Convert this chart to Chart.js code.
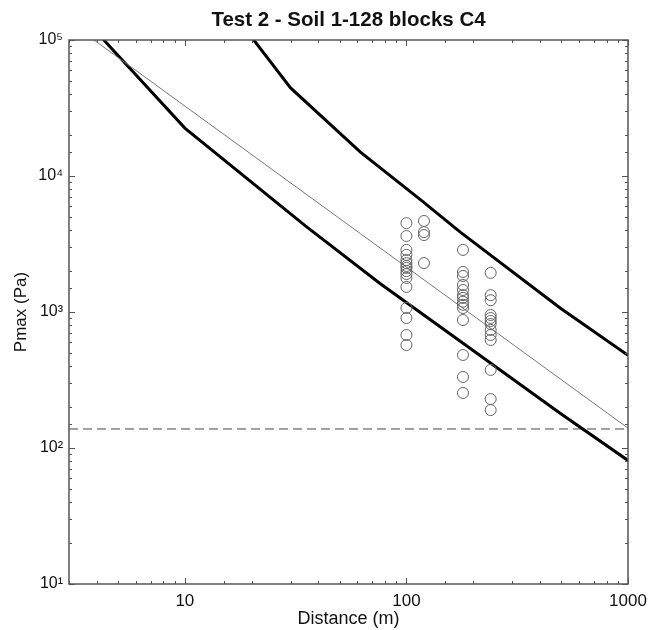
<!DOCTYPE html>
<html>
<head>
<meta charset="utf-8">
<script src="https://cdn.jsdelivr.net/npm/chart.js@4/dist/chart.umd.min.js"></script>
<style>
    body { margin: 0; background: #ffffff; }
    #box { width: 648px; height: 630px; }
</style>
</head>
<body>
<div id="box"><canvas id="pmax_Chart"></canvas></div>
<script>
// measured points (distance m, Pmax Pa)
const distances = [100, 120, 180, 240];
const pmaxAt100 = [4500, 3620, 2860, 2630, 2410, 2290, 2180, 2110, 2000, 1900, 1780, 1530, 1070, 903, 677, 572];
const pmaxAt120 = [4670, 3870, 3680, 2290];
const pmaxAt180 = [2860, 1970, 1840, 1580, 1450, 1330, 1270, 1190, 1130, 1070, 873, 483, 333, 254];
const pmaxAt240 = [1940, 1330, 1220, 950, 903, 859, 817, 738, 678, 623, 375, 229, 190];

// prediction curves
const upperX = [19, 30, 62, 116, 175, 494, 1000];
const upperY = [117000, 44400, 15000, 6670, 3870, 1070, 480];
const lowerX = [4, 10, 35, 76, 175, 494, 1000];
const lowerY = [114000, 22500, 4300, 1620, 610, 180, 81];
const fitX = [3, 1000];
const fitY = [136000, 140];

// limit line
const limitX = [3, 1000];
const limitY = [138, 138];

const chartTitle = "Test 2 - Soil 1-128 blocks C4";
const supDigits = { 1: "\u00b9", 2: "\u00b2", 3: "\u00b3", 4: "\u2074", 5: "\u2075" };
const fontFamily = "'Liberation Sans', Arial, sans-serif";

function toPoints(xs, ys) {
    let pts = [];
    for (let i = 0; i < xs.length; i++) {
        pts.push({ x: xs[i], y: ys[i] });
    }
    return pts;
}

function isDecade(v) {
    let l = Math.log10(v);
    return Math.abs(l - Math.round(l)) < 1e-6;
}

// inward ticks on all four sides, the frame, and the title centred over the plot
const frameTicks = {
    id: "frameTicks",
    afterDatasetsDraw(chart) {
        let ctx = chart.ctx;
        let a = chart.chartArea;
        ctx.save();
        ctx.strokeStyle = "#555";
        ctx.lineWidth = 1;
        ["x", "y"].forEach(id => {
            let scale = chart.scales[id];
            scale.ticks.forEach(t => {
                let len = isDecade(t.value) ? 6 : 3;
                let p = Math.round(scale.getPixelForValue(t.value)) + 0.5;
                ctx.beginPath();
                if (id === "x") {
                    ctx.moveTo(p, a.bottom); ctx.lineTo(p, a.bottom - len);
                    ctx.moveTo(p, a.top); ctx.lineTo(p, a.top + len);
                } else {
                    ctx.moveTo(a.left, p); ctx.lineTo(a.left + len, p);
                    ctx.moveTo(a.right, p); ctx.lineTo(a.right - len, p);
                }
                ctx.stroke();
            });
        });
        ctx.lineWidth = 1.5;
        ctx.strokeRect(a.left, a.top, a.right - a.left, a.bottom - a.top);

        ctx.fillStyle = "#111";
        ctx.font = "bold 20.5px " + fontFamily;
        ctx.textAlign = "center";
        ctx.textBaseline = "middle";
        ctx.fillText(chartTitle, (a.left + a.right) / 2, 20);
        ctx.restore();
    }
};

function graph() {
    let scatterPts = []
        .concat(pmaxAt100.map(v => ({ x: distances[0], y: v })))
        .concat(pmaxAt120.map(v => ({ x: distances[1], y: v })))
        .concat(pmaxAt180.map(v => ({ x: distances[2], y: v })))
        .concat(pmaxAt240.map(v => ({ x: distances[3], y: v })));

    window.pmax_Chart = new Chart("pmax_Chart", {
        type: "scatter",
        data: {
            datasets: [
                {
                    data: scatterPts,
                    pointStyle: "circle",
                    pointRadius: 5.5,
                    borderColor: "#666",
                    backgroundColor: "rgba(0,0,0,0)",
                    borderWidth: 1
                },
                {
                    data: toPoints(fitX, fitY),
                    showLine: true,
                    pointRadius: 0,
                    borderColor: "#777",
                    borderWidth: 1
                },
                {
                    data: toPoints(upperX, upperY),
                    showLine: true,
                    pointRadius: 0,
                    borderColor: "#000",
                    borderWidth: 3
                },
                {
                    data: toPoints(lowerX, lowerY),
                    showLine: true,
                    pointRadius: 0,
                    borderColor: "#000",
                    borderWidth: 3
                },
                {
                    data: toPoints(limitX, limitY),
                    showLine: true,
                    pointRadius: 0,
                    borderColor: "#444",
                    borderWidth: 1,
                    borderDash: [9, 5]
                }
            ]
        },
        options: {
            responsive: true,
            maintainAspectRatio: false,
            animation: false,
            layout: { padding: { left: 8, right: 20, top: 40, bottom: 0 } },
            plugins: {
                legend: { display: false },
                tooltip: { enabled: false },
                title: { display: false }
            },
            scales: {
                x: {
                    type: "logarithmic",
                    min: 3,
                    max: 1000,
                    grid: { display: false, drawTicks: false },
                    border: { display: false },
                    ticks: {
                        autoSkip: false,
                        maxRotation: 0,
                        padding: 7,
                        color: "#111",
                        font: { family: fontFamily, size: 17 },
                        callback: v => isDecade(v) ? String(Math.round(v)) : ""
                    },
                    title: {
                        display: true,
                        text: "Distance (m)",
                        color: "#111",
                        font: { family: fontFamily, size: 18 },
                        padding: { top: 0, bottom: 0 }
                    },
                    afterFit: s => {
                        s.height = 46;
                        s.paddingLeft = 0;
                        s.paddingRight = 0;
                    }
                },
                y: {
                    type: "logarithmic",
                    min: 10,
                    max: 100000,
                    grid: { display: false, drawTicks: false },
                    border: { display: false },
                    ticks: {
                        autoSkip: false,
                        padding: 6,
                        color: "#111",
                        font: { family: fontFamily, size: 16 },
                        callback: v => isDecade(v) ? "10" + supDigits[Math.round(Math.log10(v))] : ""
                    },
                    title: {
                        display: true,
                        text: "Pmax (Pa)",
                        color: "#111",
                        font: { family: fontFamily, size: 17 },
                        padding: { top: 3, bottom: 0 }
                    },
                    afterFit: s => { s.width = 61; }
                }
            }
        },
        plugins: [frameTicks]
    });
}

document.addEventListener("DOMContentLoaded", () => {
    graph();
});
</script>
</body>
</html>
